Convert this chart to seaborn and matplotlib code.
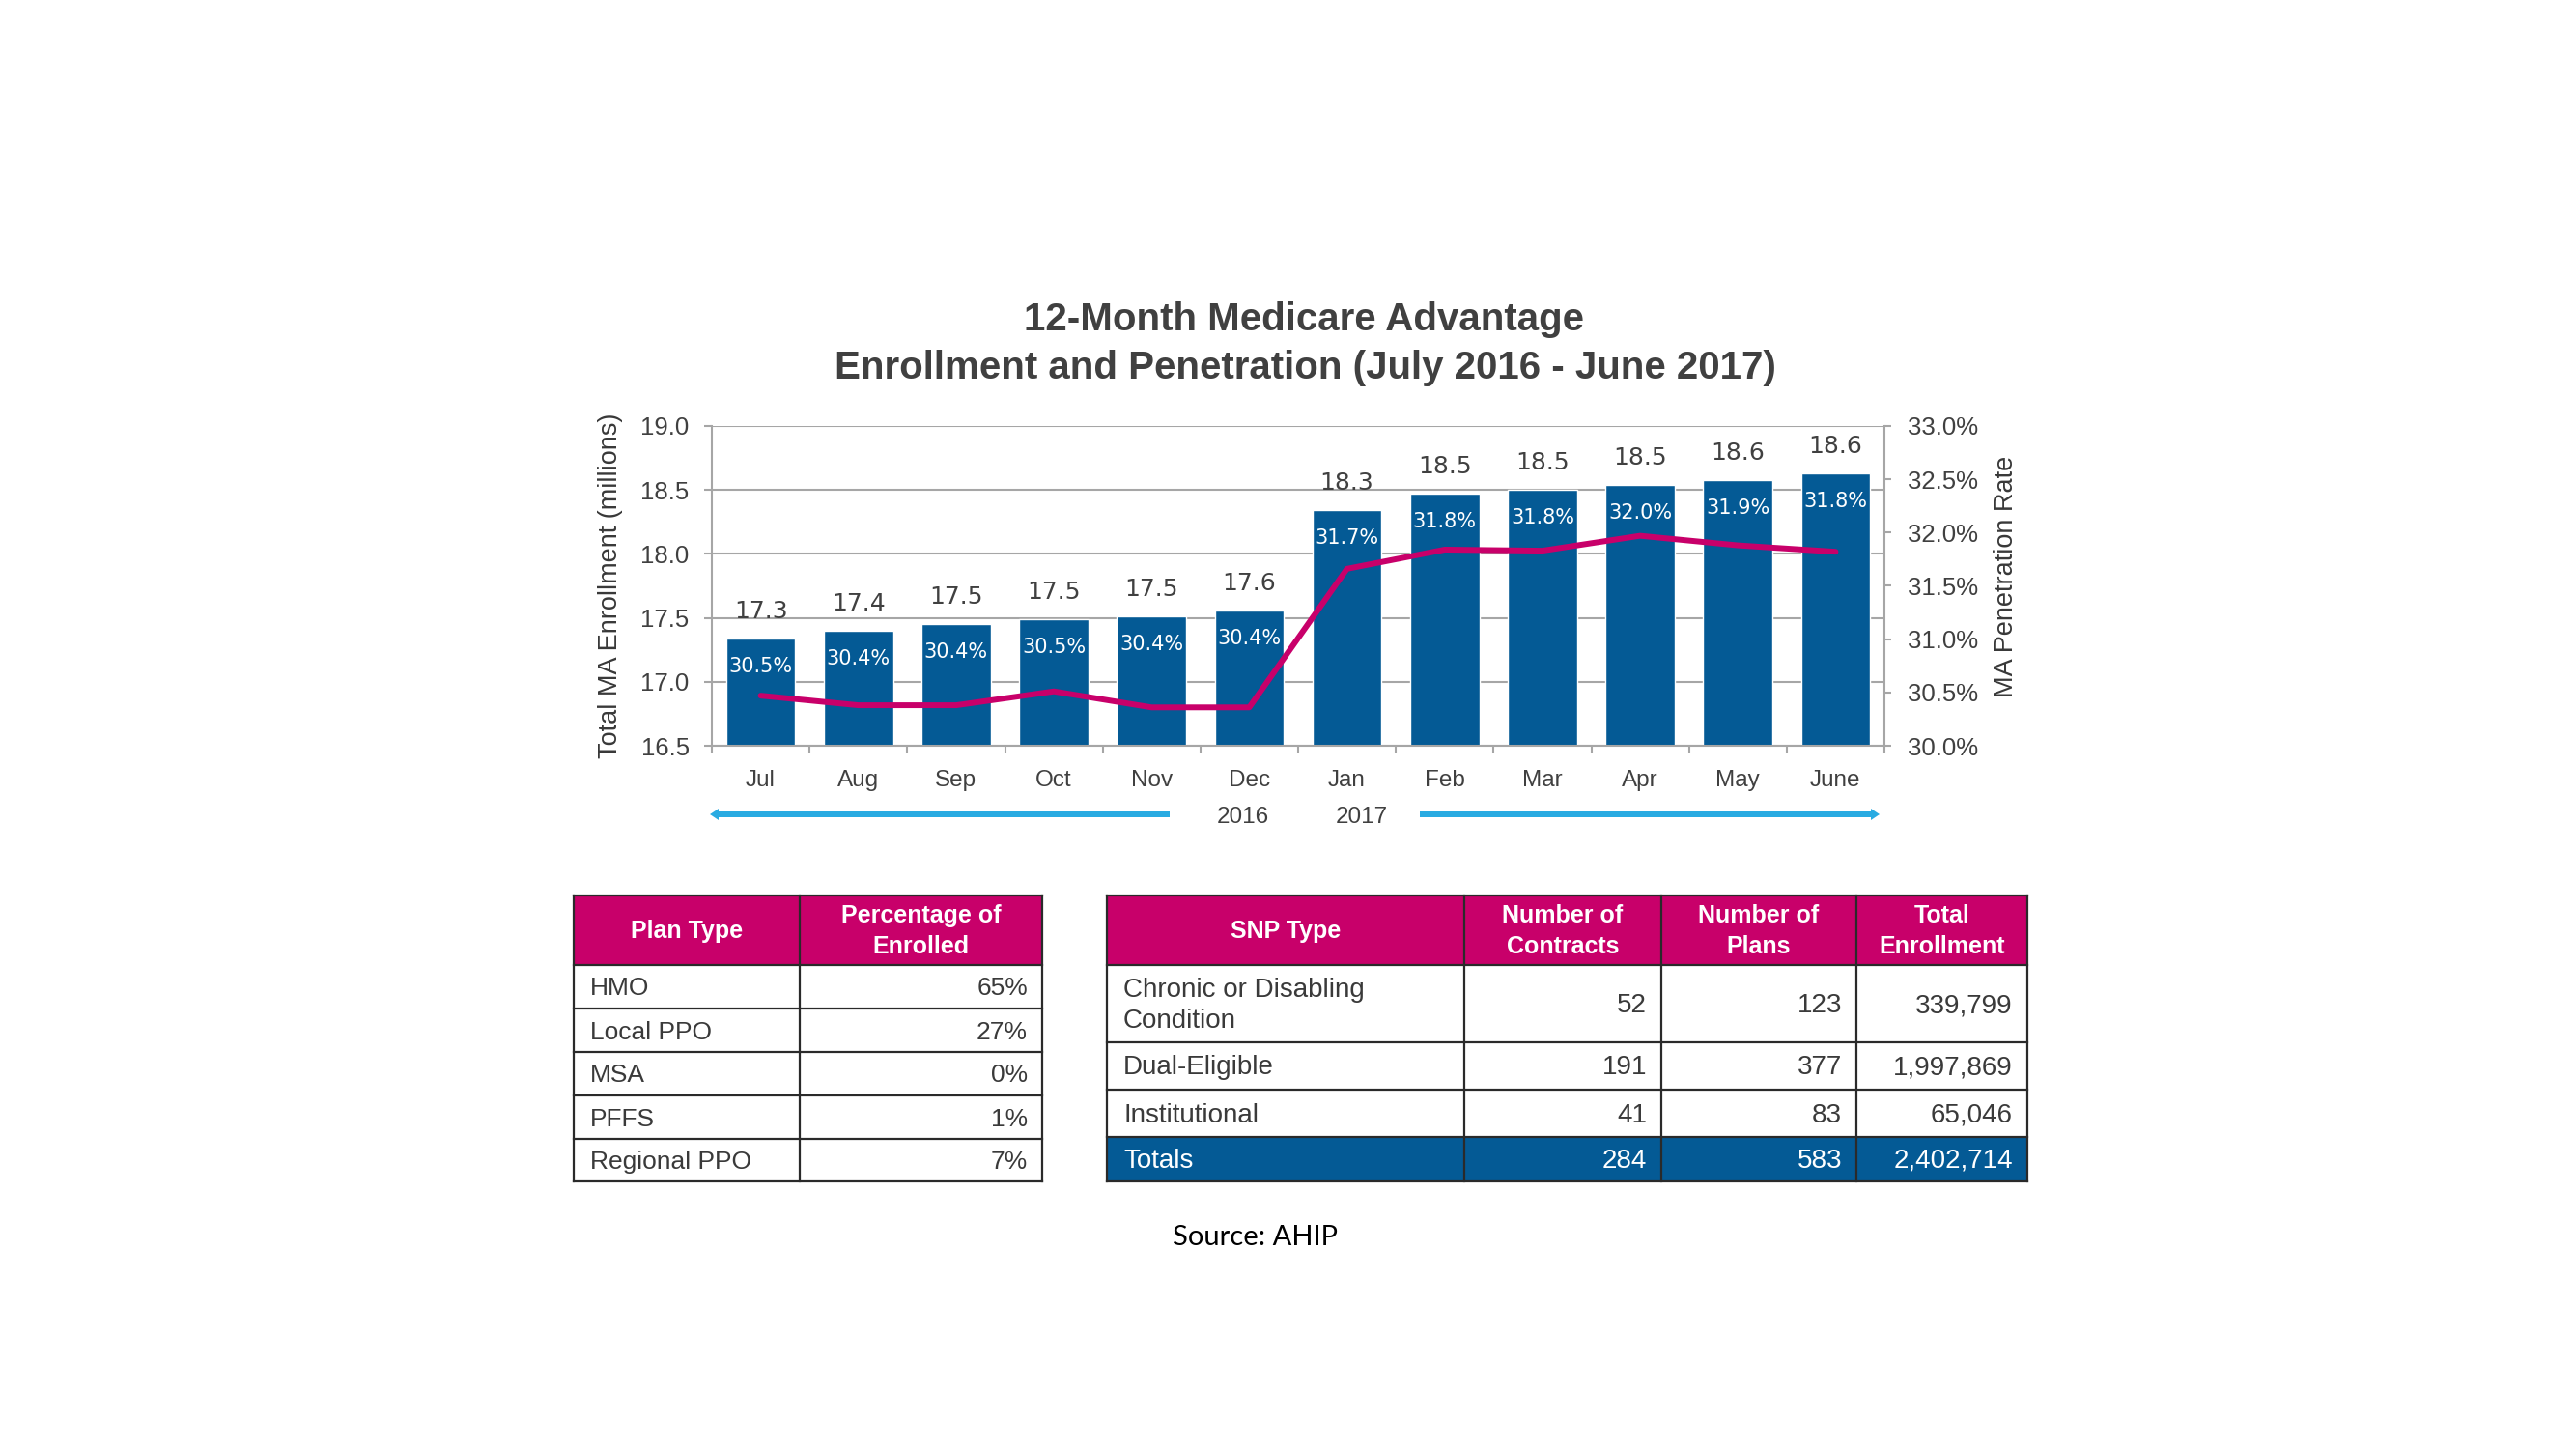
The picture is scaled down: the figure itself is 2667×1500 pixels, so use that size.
import numpy as np
import pandas as pd
import matplotlib
matplotlib.use("Agg")
import matplotlib.pyplot as plt
import seaborn as sns
from matplotlib.patches import Rectangle, FancyArrow

# ---------------- data ----------------
months = ["Jul", "Aug", "Sep", "Oct", "Nov", "Dec", "Jan", "Feb", "Mar", "Apr", "May", "June"]
enrollment = [17.34, 17.40, 17.45, 17.49, 17.51, 17.56, 18.34, 18.47, 18.50, 18.54, 18.58, 18.63]
enrollment_labels = ["17.3", "17.4", "17.5", "17.5", "17.5", "17.6", "18.3", "18.5", "18.5", "18.5", "18.6", "18.6"]
penetration = [30.47, 30.38, 30.38, 30.51, 30.36, 30.36, 31.66, 31.84, 31.83, 31.97, 31.88, 31.82]
penetration_labels = ["30.5%", "30.4%", "30.4%", "30.5%", "30.4%", "30.4%",
                      "31.7%", "31.8%", "31.8%", "32.0%", "31.9%", "31.8%"]
left_ticks = [16.5, 17.0, 17.5, 18.0, 18.5, 19.0]
right_ticks = [30.0, 30.5, 31.0, 31.5, 32.0, 32.5, 33.0]
year_labels = ["2016", "2017"]

plan_header = ["Plan Type", "Percentage of\nEnrolled"]
plan_types = ["HMO", "Local PPO", "MSA", "PFFS", "Regional PPO"]
plan_pct = ["65%", "27%", "0%", "1%", "7%"]

snp_header = ["SNP Type", "Number of\nContracts", "Number of\nPlans", "Total\nEnrollment"]
snp_types = ["Chronic or Disabling\nCondition", "Dual-Eligible", "Institutional"]
snp_contracts = [52, 191, 41]
snp_plans = [123, 377, 83]
snp_enrollment = [339799, 1997869, 65046]
totals_label = "Totals"

title_lines = ["12-Month Medicare Advantage",
               "Enrollment and Penetration (July 2016 - June 2017)"]
source_text = "Source: AHIP"

# ---------------- style ----------------
BLUE = "#045A95"
MAGENTA = "#C8006A"
ARROW = "#29ABE2"
GRID = "#A6A6A6"
TXT = "#404040"
BODY = "#3A3A3A"
BORDER = "#2A2A2A"

sns.set_theme(style="white")
plt.rcParams["font.family"] = ["Liberation Sans", "DejaVu Sans"]

W, H = 2667, 1500
fig = plt.figure(figsize=(W / 100, H / 100), dpi=100)
fig.patch.set_facecolor("white")

# overlay in pixel coordinates for titles, arrows and tables
ov = fig.add_axes([0, 0, 1, 1], zorder=0)
ov.set_xlim(0, W)
ov.set_ylim(H, 0)
ov.axis("off")

# ---------------- chart ----------------
L, R, T, B = 737, 1951, 441, 772
ax = fig.add_axes([L / W, 1 - B / H, (R - L) / W, (B - T) / H], zorder=2)
df = pd.DataFrame({"month": months, "enrollment": enrollment,
                   "penetration": penetration, "pos": np.arange(len(months))})

sns.barplot(data=df, x="month", y="enrollment", color=BLUE, saturation=1,
            width=0.71, ax=ax, zorder=2)
ax.set_axisbelow(True)
ax.set_ylim(16.5, 19.0)
ax.set_xlim(-0.5, len(months) - 0.5)
ax.set_yticks(left_ticks)
ax.set_yticklabels([f"{t:.1f}" for t in left_ticks])
ax.set_xticks(np.arange(len(months)))
ax.set_xticklabels(months)
ax.set_xticks(np.arange(-0.5, len(months)), minor=True)
ax.set_xlabel("")
ax.set_ylabel("")
ax.yaxis.grid(True, color=GRID, lw=1.5)
ax.xaxis.grid(False)
for s in ["top", "right"]:
    ax.spines[s].set_visible(False)
for s in ["left", "bottom"]:
    ax.spines[s].set_color(GRID)
    ax.spines[s].set_linewidth(1.5)
ax.tick_params(axis="y", which="major", length=5.8, width=1.5, color=GRID, pad=11,
               labelsize=18.5, labelcolor=TXT, left=True, direction="out")
ax.tick_params(axis="x", which="major", length=0, pad=18, labelsize=17.5, labelcolor=TXT)
ax.tick_params(axis="x", which="minor", length=5, width=1.5, color=GRID, bottom=True,
               direction="out")

for i, (v, lab, plab) in enumerate(zip(enrollment, enrollment_labels, penetration_labels)):
    ax.annotate(lab, (i, v), xytext=(0, 20.2), textcoords="offset points",
                ha="center", va="center", fontsize=18, color=TXT,
                family=["DejaVu Sans"], annotation_clip=False)
    ax.annotate(plab, (i, v), xytext=(0, -20.9), textcoords="offset points",
                ha="center", va="center", fontsize=15, color="white",
                family=["DejaVu Sans"], zorder=5)

ax2 = ax.twinx()
sns.lineplot(data=df, x="pos", y="penetration", ax=ax2, color=MAGENTA, lw=4.3,
             solid_capstyle="round", solid_joinstyle="round", zorder=3)
ax2.set_ylim(30.0, 33.0)
ax2.set_xlim(-0.5, len(months) - 0.5)
ax2.set_yticks(right_ticks)
ax2.set_yticklabels([f"{t:.1f}%" for t in right_ticks])
ax2.set_ylabel("")
ax2.set_xlabel("")
ax2.grid(False)
for s in ["top", "left", "bottom"]:
    ax2.spines[s].set_visible(False)
ax2.spines["right"].set_color(GRID)
ax2.spines["right"].set_linewidth(1.5)
ax2.tick_params(axis="y", length=5, width=1.5, color=GRID, pad=12, labelsize=18.5,
                labelcolor=TXT, right=True, direction="out")

# axis titles
ov.text(632, 606, "Total MA Enrollment (millions)", rotation=90, ha="center",
        va="center", fontsize=19.5, color="#383838")
ov.text(2077, 597, "MA Penetration Rate", rotation=90, ha="center",
        va="center", fontsize=19.5, color="#383838")

# title
ov.text(1350, 342, title_lines[0], ha="center", va="baseline", fontsize=29,
        fontweight="bold", color=TXT)
ov.text(1351, 392, title_lines[1], ha="center", va="baseline", fontsize=29,
        fontweight="bold", color=TXT)

# year markers and arrows
ov.text(1287, 846, year_labels[0], ha="center", va="center", fontsize=17.5, color=TXT)
ov.text(1410, 846, year_labels[1], ha="center", va="center", fontsize=17.5, color=TXT)
ov.add_patch(FancyArrow(1211, 843, 735 - 1211, 0, width=6, head_width=12, head_length=9,
                        length_includes_head=True, color=ARROW, lw=0))
ov.add_patch(FancyArrow(1470, 843, 1946 - 1470, 0, width=6, head_width=12, head_length=9,
                        length_includes_head=True, color=ARROW, lw=0))

# ---------------- tables ----------------
def draw_table(xe, ye, header, rows, aligns, fills, body_size):
    for r, (y0, y1) in enumerate(zip(ye[:-1], ye[1:])):
        if fills[r] is not None:
            ov.add_patch(Rectangle((xe[0], y0), xe[-1] - xe[0], y1 - y0,
                                   facecolor=fills[r], edgecolor="none"))
    for y in ye:
        ov.plot([xe[0], xe[-1]], [y, y], color=BORDER, lw=1.6, solid_capstyle="projecting")
    for x in xe:
        ov.plot([x, x], [ye[0], ye[-1]], color=BORDER, lw=1.6, solid_capstyle="projecting")
    # header
    for c, txt in enumerate(header):
        ov.text((xe[c] + xe[c + 1]) / 2, (ye[0] + ye[1]) / 2 + 1, txt, ha="center",
                va="center", fontsize=18, fontweight="bold", color="white",
                linespacing=1.45)
    for r, row in enumerate(rows):
        yc = (ye[r + 1] + ye[r + 2]) / 2 + 2
        col = "white" if fills[r + 1] is not None else BODY
        for c, txt in enumerate(row):
            if aligns[c] == "left":
                ov.text(xe[c] + 17, yc, txt, ha="left", va="center", fontsize=body_size,
                        color=col, linespacing=1.35)
            else:
                ov.text(xe[c + 1] - 15, yc, txt, ha="right", va="center",
                        fontsize=body_size, color=col)

plan_rows = [[t, p] for t, p in zip(plan_types, plan_pct)]
draw_table([594, 828, 1079], [927, 999, 1044, 1089, 1134, 1179, 1223],
           plan_header, plan_rows, ["left", "right"],
           [MAGENTA, None, None, None, None, None], 19)

snp_rows = [[t, f"{a:,}", f"{b:,}", f"{c:,}"]
            for t, a, b, c in zip(snp_types, snp_contracts, snp_plans, snp_enrollment)]
snp_rows.append([totals_label, f"{sum(snp_contracts):,}", f"{sum(snp_plans):,}",
                 f"{sum(snp_enrollment):,}"])
draw_table([1146, 1516, 1720, 1922, 2099], [927, 999, 1079, 1128, 1177, 1223],
           snp_header, snp_rows, ["left", "right", "right", "right"],
           [MAGENTA, None, None, None, BLUE], 20)

# source
ov.text(1300, 1289, source_text, ha="center", va="baseline", fontsize=21,
        color="black", family=["Lato", "DejaVu Sans"])

fig.savefig("out.png", dpi=100, facecolor="white")
